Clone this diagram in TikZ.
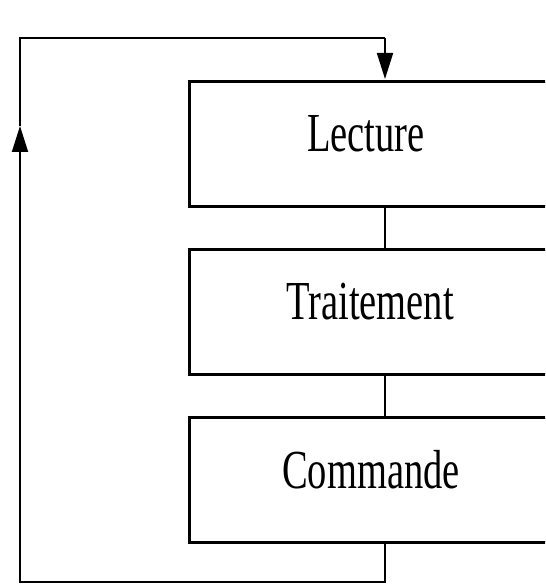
\documentclass[tikz,border=0pt]{standalone}
\usepackage{fontspec}
\setmainfont{Liberation Serif}
\usetikzlibrary{arrows.meta}
\begin{document}
\begin{tikzpicture}[x=1pt,y=-1pt,
  box/.style={draw,line width=3pt,minimum width=380pt,minimum height=125pt,anchor=north west,inner sep=0pt},
  lbl/.style={font=\fontsize{55}{55}\selectfont,inner sep=0pt},
  wire/.style={line width=1.8pt},
  tip/.style={-{Triangle[width=16pt,length=26pt]}}]
\useasboundingbox (0,0) rectangle (545,585);
\clip (0,0) rectangle (545,585);
\fill[white] (0,0) rectangle (545,585);
\node[box] (lec) at (188,80) {};
\node[box] (tra) at (188,248) {};
\node[box] (com) at (188,416) {};
\node[lbl] (tl) at (366,134) {\scalebox{0.7}[1]{Lecture}};
\node[lbl] (tt) at (370,302) {\scalebox{0.7}[1]{Traitement}};
\node[lbl] (tc) at (371,470) {\scalebox{0.7}[1]{Commande}};
\coordinate (cx) at (385,0);
\coordinate (bl) at (20,582);
\coordinate (ml) at (20,126);
\coordinate (tlc) at (20,38);
\coordinate (tr) at (385,38);
\coordinate (ltop) at (385,79);
\draw[wire] (lec.south -| cx) -- (tra.north -| cx);
\draw[wire] (tra.south -| cx) -- (com.north -| cx);
\draw[wire,tip] (com.south -| cx) |- (bl) -- (ml);
\draw[wire] (ml) -- (tlc) -- (tr);
\draw[wire,tip] (tr) -- (ltop);
\end{tikzpicture}
\end{document}
